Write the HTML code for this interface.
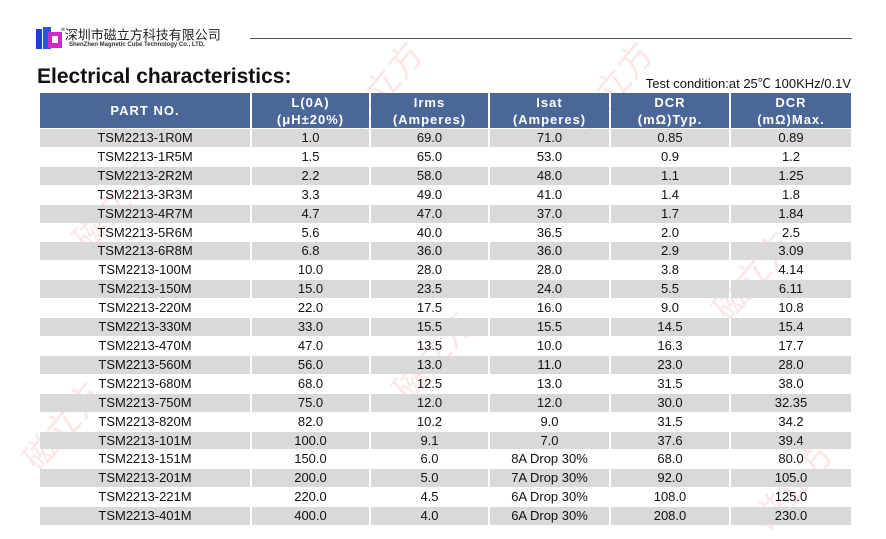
<!DOCTYPE html>
<html><head><meta charset="utf-8"><style>
body{margin:0;width:886px;height:531px;background:#fff;position:relative;overflow:hidden;font-family:"Liberation Sans","Noto Sans CJK SC",sans-serif;}
.a{position:absolute}
table{position:absolute;left:40px;top:93px;border-collapse:separate;border-spacing:2px 1px;margin:-1px -2px;}
td{padding:0;text-align:center;font-size:13px;color:#111;height:17.9px;line-height:17.9px}
th{background:#4a6797;color:#fff;font-size:13px;font-weight:bold;height:35px;line-height:17px;letter-spacing:1px;padding:0}
tr.g td{background:#d9d9d9}
.wm{position:absolute;color:rgba(240,120,120,0.18);font-size:34px;transform:rotate(-50deg);font-family:"Noto Sans CJK SC",sans-serif;white-space:nowrap}
</style></head><body>
<div class="wm" style="left:330px;top:60px">磁立方</div>
<div class="wm" style="left:60px;top:180px">磁立方</div>
<div class="wm" style="left:560px;top:60px">磁立方</div>
<div class="wm" style="left:380px;top:330px">磁立方</div>
<div class="wm" style="left:700px;top:250px">磁立方</div>
<div class="wm" style="left:10px;top:400px">磁立方</div>
<div class="wm" style="left:740px;top:460px">磁立方</div>
<svg class="a" style="left:36px;top:25px" width="28" height="26"><rect x="0" y="4" width="6" height="20" fill="#1f3fcc"/><rect x="7" y="2" width="8" height="22" fill="#2a55e0"/><rect x="12" y="7" width="14" height="16" fill="#d02bc6"/><rect x="16" y="11" width="6" height="7" fill="#fff"/></svg>
<div class="a" style="left:61px;top:24px;font-size:13px;color:#222;font-family:'Noto Sans CJK SC',sans-serif;line-height:16px"><sup style="font-size:8px">®</sup>深圳市磁立方科技有限公司</div>
<div class="a" style="left:69px;top:42px;font-size:6px;color:#333;font-weight:bold;line-height:7px">ShenZhen Magnetic Cube Technology Co., LTD.</div>
<div class="a" style="left:250px;top:38px;width:602px;height:1px;background:#555"></div>
<div class="a" style="left:37px;top:65px;font-size:21px;font-weight:bold;color:#111">Electrical characteristics:</div>
<div class="a" style="right:35px;top:73px;font-size:13px;color:#111">Test condition:at 25℃ 100KHz/0.1V</div>
<table>
<tr><th style="width:210px">PART NO.</th><th style="width:117px">L(0A)<br>(μH±20%)</th><th style="width:117px">Irms<br>(Amperes)</th><th style="width:119px">Isat<br>(Amperes)</th><th style="width:118px">DCR<br>(mΩ)Typ.</th><th style="width:120px">DCR<br>(mΩ)Max.</th></tr>
<tr class="g"><td>TSM2213-1R0M</td><td>1.0</td><td>69.0</td><td>71.0</td><td>0.85</td><td>0.89</td></tr>
<tr><td>TSM2213-1R5M</td><td>1.5</td><td>65.0</td><td>53.0</td><td>0.9</td><td>1.2</td></tr>
<tr class="g"><td>TSM2213-2R2M</td><td>2.2</td><td>58.0</td><td>48.0</td><td>1.1</td><td>1.25</td></tr>
<tr><td>TSM2213-3R3M</td><td>3.3</td><td>49.0</td><td>41.0</td><td>1.4</td><td>1.8</td></tr>
<tr class="g"><td>TSM2213-4R7M</td><td>4.7</td><td>47.0</td><td>37.0</td><td>1.7</td><td>1.84</td></tr>
<tr><td>TSM2213-5R6M</td><td>5.6</td><td>40.0</td><td>36.5</td><td>2.0</td><td>2.5</td></tr>
<tr class="g"><td>TSM2213-6R8M</td><td>6.8</td><td>36.0</td><td>36.0</td><td>2.9</td><td>3.09</td></tr>
<tr><td>TSM2213-100M</td><td>10.0</td><td>28.0</td><td>28.0</td><td>3.8</td><td>4.14</td></tr>
<tr class="g"><td>TSM2213-150M</td><td>15.0</td><td>23.5</td><td>24.0</td><td>5.5</td><td>6.11</td></tr>
<tr><td>TSM2213-220M</td><td>22.0</td><td>17.5</td><td>16.0</td><td>9.0</td><td>10.8</td></tr>
<tr class="g"><td>TSM2213-330M</td><td>33.0</td><td>15.5</td><td>15.5</td><td>14.5</td><td>15.4</td></tr>
<tr><td>TSM2213-470M</td><td>47.0</td><td>13.5</td><td>10.0</td><td>16.3</td><td>17.7</td></tr>
<tr class="g"><td>TSM2213-560M</td><td>56.0</td><td>13.0</td><td>11.0</td><td>23.0</td><td>28.0</td></tr>
<tr><td>TSM2213-680M</td><td>68.0</td><td>12.5</td><td>13.0</td><td>31.5</td><td>38.0</td></tr>
<tr class="g"><td>TSM2213-750M</td><td>75.0</td><td>12.0</td><td>12.0</td><td>30.0</td><td>32.35</td></tr>
<tr><td>TSM2213-820M</td><td>82.0</td><td>10.2</td><td>9.0</td><td>31.5</td><td>34.2</td></tr>
<tr class="g"><td>TSM2213-101M</td><td>100.0</td><td>9.1</td><td>7.0</td><td>37.6</td><td>39.4</td></tr>
<tr><td>TSM2213-151M</td><td>150.0</td><td>6.0</td><td>8A Drop 30%</td><td>68.0</td><td>80.0</td></tr>
<tr class="g"><td>TSM2213-201M</td><td>200.0</td><td>5.0</td><td>7A Drop 30%</td><td>92.0</td><td>105.0</td></tr>
<tr><td>TSM2213-221M</td><td>220.0</td><td>4.5</td><td>6A Drop 30%</td><td>108.0</td><td>125.0</td></tr>
<tr class="g"><td>TSM2213-401M</td><td>400.0</td><td>4.0</td><td>6A Drop 30%</td><td>208.0</td><td>230.0</td></tr>
</table>
</body></html>
